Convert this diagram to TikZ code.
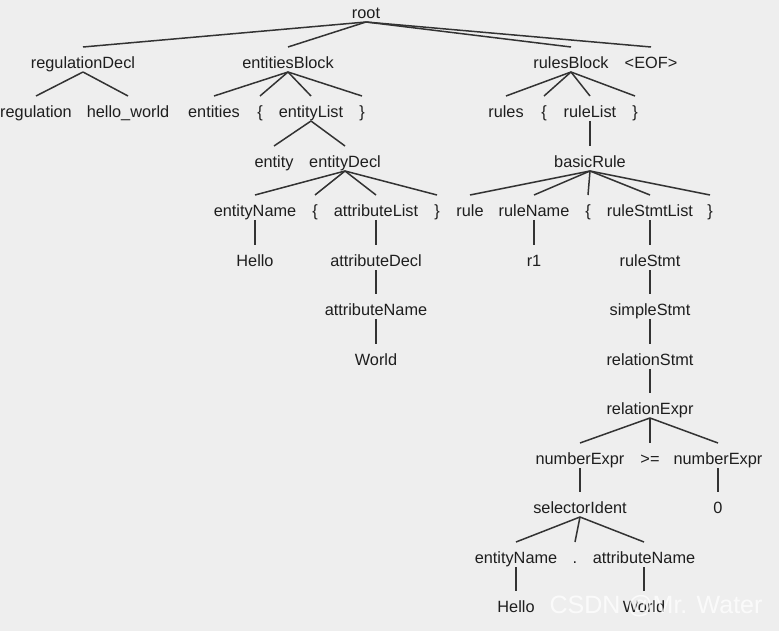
\documentclass[tikz,border=0pt]{standalone}
\usepackage{fontspec}
\setmainfont{Liberation Sans}
\definecolor{bg}{HTML}{EEEEEE}
\definecolor{ink}{HTML}{1E1E1E}
\definecolor{ln}{HTML}{333333}
\newcommand\tedge[2]{\draw[tedgestyle] ([yshift=-9pt]#1.center) -- ([yshift=16pt]#2.center);}
\begin{document}
\begin{tikzpicture}[x=1pt,y=-1pt,
  t/.style={inner sep=0pt,anchor=center,text=ink,text height=11.5pt,text depth=0pt,font=\fontsize{16.3}{19}\selectfont},
  tedgestyle/.style={draw=ln,line width=1.5pt}]
\fill[bg] (0,0) rectangle (779,631);
\useasboundingbox (0,0) rectangle (779,631);
% level 0
\node[t] (root) at (366,13) {root};
% level 1
\node[t] (regDecl) at (83,63) {regulationDecl};
\node[t] (entBlock) at (288,63) {entitiesBlock};
\node[t] (rulBlock) at (571,63) {rulesBlock};
\node[t] (eof) at (651,63) {<EOF>};
% level 2
\node[t] (regulation) at (36,112) {regulation};
\node[t] (helloworld) at (128,112) {hello\_world};
\node[t] (entities) at (214,112) {entities};
\node[t] (lbA) at (260,112) {\{};
\node[t] (entList) at (311,112) {entityList};
\node[t] (rbA) at (362,112) {\}};
\node[t] (rules) at (506,112) {rules};
\node[t] (lbB) at (544,112) {\{};
\node[t] (rulList) at (590,112) {ruleList};
\node[t] (rbB) at (635,112) {\}};
% level 3
\node[t] (entity) at (274,162) {entity};
\node[t] (entDecl) at (345,162) {entityDecl};
\node[t] (basicRule) at (590,162) {basicRule};
% level 4
\node[t] (entName) at (255,211) {entityName};
\node[t] (lbC) at (315,211) {\{};
\node[t] (attrList) at (376,211) {attributeList};
\node[t] (rbC) at (437,211) {\}};
\node[t] (rule) at (470,211) {rule};
\node[t] (ruleName) at (534,211) {ruleName};
\node[t] (lbD) at (588,211) {\{};
\node[t] (rsList) at (650,211) {ruleStmtList};
\node[t] (rbD) at (710,211) {\}};
% level 5
\node[t] (helloA) at (255,261) {Hello};
\node[t] (attrDecl) at (376,261) {attributeDecl};
\node[t] (rone) at (534,261) {r1};
\node[t] (ruleStmt) at (650,261) {ruleStmt};
% level 6
\node[t] (attrNameA) at (376,310) {attributeName};
\node[t] (simpleStmt) at (650,310) {simpleStmt};
% level 7
\node[t] (worldA) at (376,360) {World};
\node[t] (relStmt) at (650,360) {relationStmt};
% level 8
\node[t] (relExpr) at (650,409) {relationExpr};
% level 9
\node[t] (numA) at (580,459) {numberExpr};
\node[t] (geq) at (650,459) {>=};
\node[t] (numB) at (718,459) {numberExpr};
% level 10
\node[t] (selIdent) at (580,508) {selectorIdent};
\node[t] (zero) at (718,508) {0};
% level 11
\node[t] (entNameB) at (516,558) {entityName};
\node[t] (dot) at (575,558) {.};
\node[t] (attrNameB) at (644,558) {attributeName};
% level 12
\node[t] (helloB) at (516,607) {Hello};
\node[t] (worldB) at (644,607) {World};
% edges
\tedge{root}{regDecl}\tedge{root}{entBlock}\tedge{root}{rulBlock}\tedge{root}{eof}
\tedge{regDecl}{regulation}\tedge{regDecl}{helloworld}
\tedge{entBlock}{entities}\tedge{entBlock}{lbA}\tedge{entBlock}{entList}\tedge{entBlock}{rbA}
\tedge{rulBlock}{rules}\tedge{rulBlock}{lbB}\tedge{rulBlock}{rulList}\tedge{rulBlock}{rbB}
\tedge{entList}{entity}\tedge{entList}{entDecl}
\tedge{rulList}{basicRule}
\tedge{entDecl}{entName}\tedge{entDecl}{lbC}\tedge{entDecl}{attrList}\tedge{entDecl}{rbC}
\tedge{basicRule}{rule}\tedge{basicRule}{ruleName}\tedge{basicRule}{lbD}\tedge{basicRule}{rsList}\tedge{basicRule}{rbD}
\tedge{entName}{helloA}\tedge{attrList}{attrDecl}\tedge{attrDecl}{attrNameA}\tedge{attrNameA}{worldA}
\tedge{ruleName}{rone}\tedge{rsList}{ruleStmt}\tedge{ruleStmt}{simpleStmt}\tedge{simpleStmt}{relStmt}\tedge{relStmt}{relExpr}
\tedge{relExpr}{numA}\tedge{relExpr}{geq}\tedge{relExpr}{numB}
\tedge{numA}{selIdent}\tedge{numB}{zero}
\tedge{selIdent}{entNameB}\tedge{selIdent}{dot}\tedge{selIdent}{attrNameB}
\tedge{entNameB}{helloB}\tedge{attrNameB}{worldB}
% watermark
\node[inner sep=0pt,anchor=center,text=white,opacity=0.75,font=\fontsize{25}{28}\selectfont] (wm) at (656,606) {CSDN @Mr. Water};
\end{tikzpicture}
\end{document}
